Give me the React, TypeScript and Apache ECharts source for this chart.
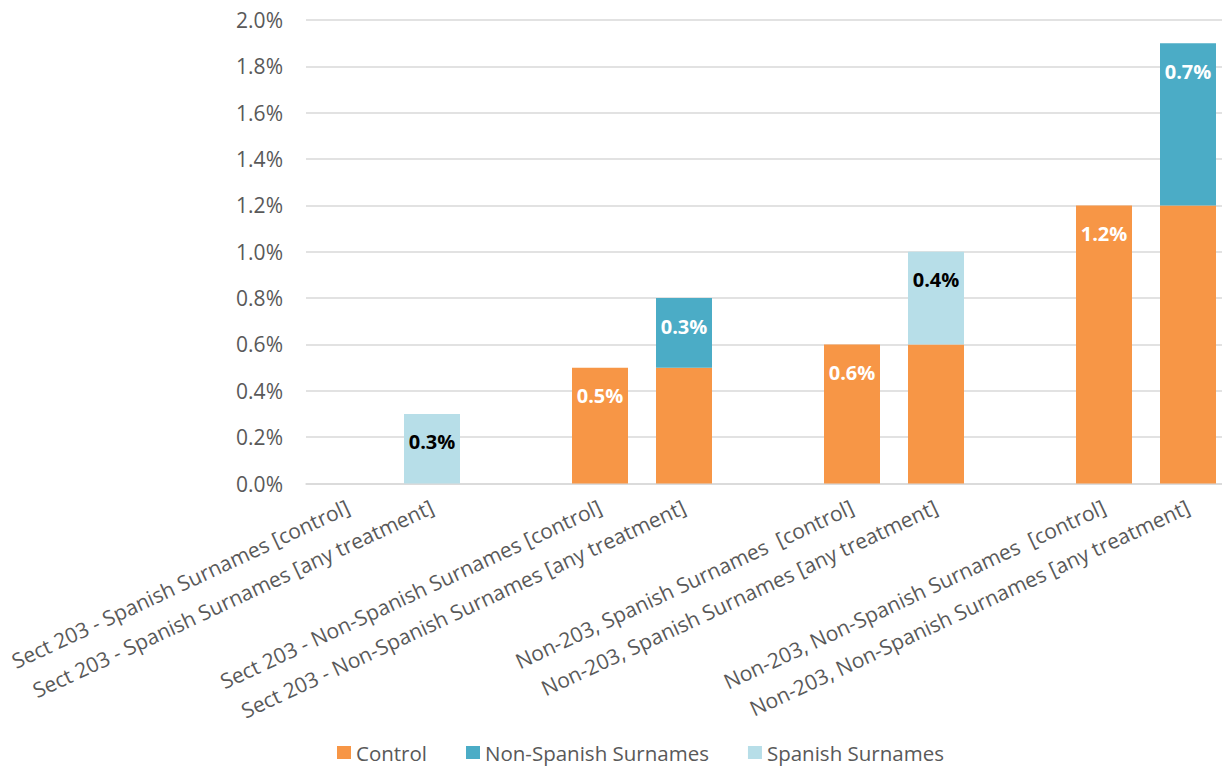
import React, { useEffect, useRef } from "react";
import * as echarts from "echarts";

const categories = [
  "Sect 203 - Spanish Surnames [control]",
  "Sect 203 - Spanish Surnames [any treatment]",
  "",
  "Sect 203 - Non-Spanish Surnames [control]",
  "Sect 203 - Non-Spanish Surnames [any treatment]",
  "",
  "Non-203, Spanish Surnames  [control]",
  "Non-203, Spanish Surnames [any treatment]",
  "",
  "Non-203, Non-Spanish Surnames  [control]",
  "Non-203, Non-Spanish Surnames [any treatment]",
];

const controlValues = [null, null, null, 0.5, 0.5, null, 0.6, 0.6, null, 1.2, 1.2];
const controlLabelShown = [false, false, false, true, false, false, true, false, false, true, false];
const nonSpanishValues = [null, null, null, null, 0.3, null, null, null, null, null, 0.7];
const spanishValues = [null, 0.3, null, null, null, null, null, 0.4, null, null, null];

const yTicks = { min: 0, max: 2, interval: 0.2 };

const FONT = "'Open Sans', sans-serif";

export default function App() {
  const ref = useRef<HTMLDivElement>(null);

  useEffect(() => {
    if (!ref.current) return;
    const chart = echarts.init(ref.current, undefined, { renderer: "svg" });

    const barLabel = (color: string) => ({
      show: true,
      position: "insideTop",
      distance: 18,
      color,
      fontFamily: FONT,
      fontWeight: "bold",
      fontSize: 20,
      lineHeight: 20,
      formatter: (p: any) => `${Number(p.value).toFixed(1)}%`,
    });

    chart.setOption({
      animation: false,
      backgroundColor: "#ffffff",
      textStyle: { fontFamily: FONT },
      grid: {
        left: 306,
        top: 20,
        width: 924,
        height: 463.5,
        outerBoundsMode: "none",
        containLabel: false,
      },
      legend: {
        left: 332,
        top: 737,
        itemWidth: 14,
        itemHeight: 13,
        itemGap: 39,
        icon: "rect",
        textStyle: { color: "#595959", fontSize: 20.5, lineHeight: 20, fontFamily: FONT },
        data: ["Control", "Non-Spanish Surnames", "Spanish Surnames"],
      },
      xAxis: {
        type: "category",
        data: categories,
        boundaryGap: true,
        axisTick: { show: false },
        axisLine: { show: true, lineStyle: { color: "#d9d9d9", width: 1.5 } },
        axisLabel: {
          interval: 0,
          rotate: 25,
          margin: 22,
          color: "#595959",
          fontSize: 21,
          fontFamily: FONT,
        },
      },
      yAxis: {
        type: "value",
        min: yTicks.min,
        max: yTicks.max,
        interval: yTicks.interval,
        axisLine: { show: false },
        axisTick: { show: false },
        splitLine: { lineStyle: { color: "#d9d9d9", width: 1.5 } },
        axisLabel: {
          margin: 23,
          color: "#595959",
          fontSize: 21,
          fontFamily: FONT,
          formatter: (v: number) => `${v.toFixed(1)}%`,
        },
      },
      series: [
        {
          name: "Control",
          type: "bar",
          stack: "total",
          barWidth: 56,
          itemStyle: { color: "#F79646" },
          data: controlValues.map((v, i) => ({
            value: v,
            label: controlLabelShown[i] ? barLabel("#ffffff") : { show: false },
          })),
        },
        {
          name: "Non-Spanish Surnames",
          type: "bar",
          stack: "total",
          barWidth: 56,
          itemStyle: { color: "#4BACC6" },
          label: barLabel("#ffffff"),
          data: nonSpanishValues,
        },
        {
          name: "Spanish Surnames",
          type: "bar",
          stack: "total",
          barWidth: 56,
          itemStyle: { color: "#B7DEE8" },
          label: barLabel("#000000"),
          data: spanishValues,
        },
      ],
    });

    return () => chart.dispose();
  }, []);

  return (
    <div
      ref={ref}
      style={{ position: "absolute", left: 0, top: 0, width: 1222, height: 767, background: "#fff" }}
    />
  );
}
